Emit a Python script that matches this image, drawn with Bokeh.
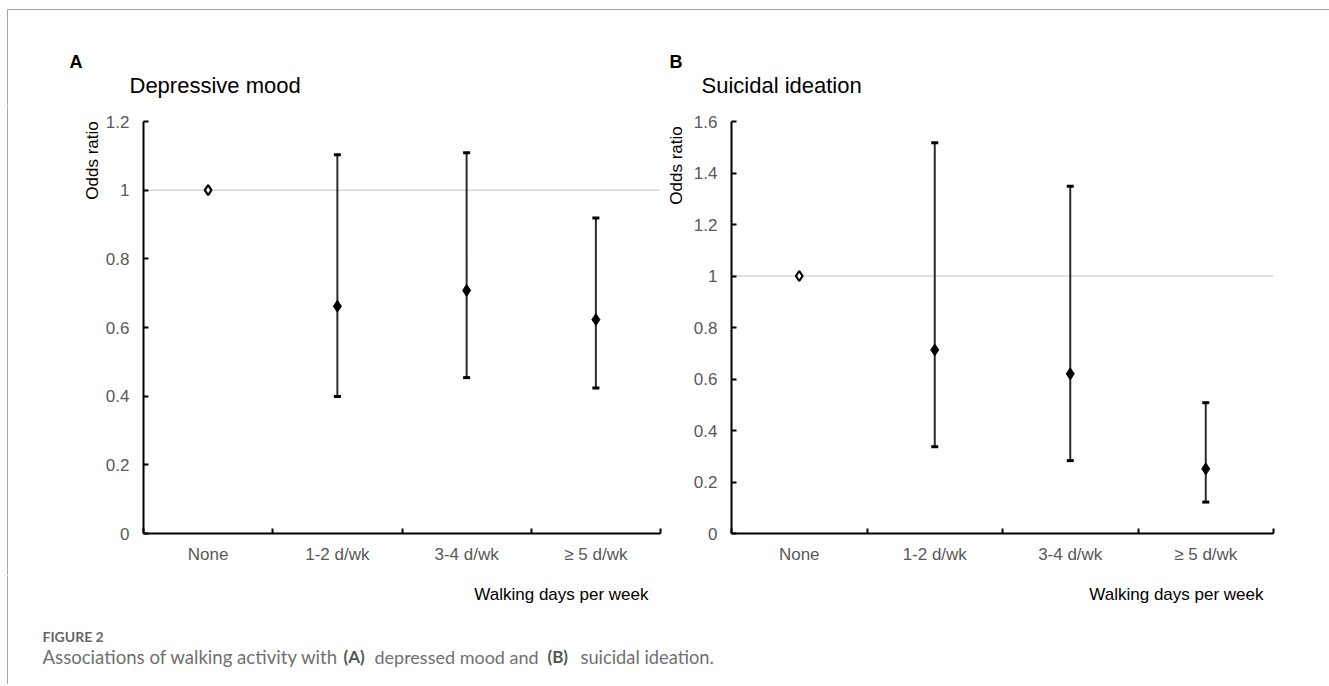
from bokeh.plotting import figure
from bokeh.models import ColumnDataSource, Whisker, TeeHead, Span, FixedTicker, Range1d, Plot
from bokeh.layouts import row, column
from bokeh.embed import file_html
from bokeh.resources import INLINE
from bokeh.core.properties import value

# ---------------- data ----------------
categories = ["None", "1-2 d/wk", "3-4 d/wk", "\u2265 5 d/wk"]

or_A = [1.0, 0.662, 0.708, 0.623]
lo_A = [1.0, 0.399, 0.454, 0.424]
hi_A = [1.0, 1.103, 1.109, 0.919]

or_B = [1.0, 0.713, 0.620, 0.251]
lo_B = [1.0, 0.337, 0.283, 0.122]
hi_B = [1.0, 1.517, 1.349, 0.508]

yticks_A = [0, 0.2, 0.4, 0.6, 0.8, 1.0, 1.2]
ylabels_A = ["0", "0.2", "0.4", "0.6", "0.8", "1", "1.2"]
yticks_B = [0, 0.2, 0.4, 0.6, 0.8, 1.0, 1.2, 1.4, 1.6]
ylabels_B = ["0", "0.2", "0.4", "0.6", "0.8", "1", "1.2", "1.4", "1.6"]

panel_letters = ["A", "B"]
panel_titles = ["Depressive mood", "Suicidal ideation"]
y_title = "Odds ratio"
x_title = "Walking days per week"
fig_label = "FIGURE 2"
caption_parts = ["Associations of walking activity with", "(A)", "depressed mood and", "(B)",
                 "suicidal ideation."]
caption_bold = [False, True, False, True, False]

FONT = "Liberation Sans"
TICK_COLOR = "#595959"
BORDER = "#a6a6a6"

HEADER_H = 105
MID_H = 470
FOOT_H = 109
W = 1329
TOP_B = 16          # panel border above frame
FRAME_H = 412
BOT_B = MID_H - TOP_B - FRAME_H

HAS_FA = "frame_align" in Plot.properties()


def make_panel(vals, lo, hi, yticks, ylabels, width, bl, br):
    p = figure(width=width, height=MID_H, output_backend="svg", toolbar_location=None,
               x_range=Range1d(0, len(categories)), y_range=Range1d(yticks[0], yticks[-1]),
               min_border_left=bl, min_border_right=br, min_border_top=TOP_B,
               min_border_bottom=BOT_B, title=None)
    p.outline_line_color = None
    p.grid.visible = False

    centers = [i + 0.5 for i in range(len(categories))]
    bounds = [float(i) for i in range(len(categories) + 1)]

    xa = p.xaxis[0]
    xa.ticker = FixedTicker(ticks=centers, minor_ticks=bounds)
    xa.major_label_overrides = {c: lab for c, lab in zip(centers, categories)}
    xa.axis_line_width = 2
    xa.axis_line_color = "black"
    xa.major_tick_in = 0
    xa.major_tick_out = 0
    xa.minor_tick_in = 5
    xa.minor_tick_out = 0
    xa.minor_tick_line_width = 2
    xa.minor_tick_line_color = "black"
    xa.major_label_text_font = FONT
    xa.major_label_text_font_size = "17px"
    xa.major_label_text_color = TICK_COLOR
    xa.major_label_standoff = 11

    ya = p.yaxis[0]
    ya.ticker = FixedTicker(ticks=yticks, minor_ticks=[])
    ya.major_label_overrides = {t: lab for t, lab in zip(yticks, ylabels)}
    ya.axis_line_width = 2
    ya.axis_line_color = "black"
    ya.major_tick_in = 5
    ya.major_tick_out = 0
    ya.major_tick_line_width = 2
    ya.major_tick_line_color = "black"
    ya.minor_tick_line_color = None
    ya.major_label_text_font = FONT
    ya.major_label_text_font_size = "17px"
    ya.major_label_text_color = TICK_COLOR
    ya.major_label_standoff = 14

    p.add_layout(Span(location=1, dimension="width", line_color="#c4c4c4", line_width=1, level="underlay"))

    idx = [i for i in range(len(categories)) if lo[i] != hi[i]]
    src_w = ColumnDataSource(dict(x=[centers[i] for i in idx], lo=[lo[i] for i in idx],
                                  hi=[hi[i] for i in idx], y=[vals[i] for i in idx]))
    head = dict(size=7, line_width=3, line_color="black")
    p.add_layout(Whisker(source=src_w, base="x", lower="lo", upper="hi", dimension="height",
                         line_color="#2b2b2b", line_width=2,
                         upper_head=TeeHead(**head), lower_head=TeeHead(**head)))
    p.scatter("x", "y", source=src_w, marker="diamond", size=12, color="black")

    ref = [i for i in range(len(categories)) if lo[i] == hi[i]]
    src_r = ColumnDataSource(dict(x=[centers[i] for i in ref], y=[vals[i] for i in ref]))
    p.scatter("x", "y", source=src_r, marker="diamond", size=10, fill_color="white",
              line_color="black", line_width=2.2)
    return p


class Canvas:
    """A plain figure whose frame is used as a pixel canvas (page coordinates)."""

    def __init__(self, w, h, page_x0, page_y0, strip=False):
        self.page_x0 = page_x0
        if strip and not HAS_FA:
            self.p = figure(width=w, height=h, output_backend="svg", toolbar_location=None,
                            x_range=Range1d(0, w), y_range=Range1d(0, FRAME_H), min_border=0,
                            min_border_top=TOP_B, min_border_bottom=BOT_B, title=None,
                            x_axis_location=None, y_axis_location=None)
            self.top = page_y0 + TOP_B
            self.h = FRAME_H
        else:
            self.p = figure(width=w, height=h, output_backend="svg", toolbar_location=None,
                            x_range=Range1d(0, w), y_range=Range1d(0, h), min_border=0, title=None,
                            x_axis_location=None, y_axis_location=None)
            if strip:
                self.p.frame_align = False
            self.top = page_y0
            self.h = h
        self.p.grid.visible = False
        self.p.outline_line_color = None

    def put(self, x, y, text, size, color="black", style="normal", font=FONT, angle=0,
            align="left", baseline="alphabetic"):
        self.p.text(x=[x - self.page_x0], y=[self.h - (y - self.top)], text=[text],
                    text_font=value(font), text_font_size=value(size), text_color=color,
                    text_font_style=style, angle=angle, text_align=align, text_baseline=baseline)

    def line(self, x0, y0, x1, y1):
        y0 = min(max(y0, self.top), self.top + self.h)
        y1 = min(max(y1, self.top), self.top + self.h)
        self.p.segment(x0=[x0 - self.page_x0], y0=[self.h - (y0 - self.top)],
                       x1=[x1 - self.page_x0], y1=[self.h - (y1 - self.top)],
                       line_color=BORDER, line_width=1)


# header
header = Canvas(W, HEADER_H, 0, 0)
header.line(7, 9, W, 9)
header.line(7, 9, 7, HEADER_H)
header.put(69, 61, panel_letters[0], "18px", style="bold")
header.put(129, 85, panel_titles[0], "22px")
header.put(669, 61, panel_letters[1], "18px", style="bold")
header.put(701, 85, panel_titles[1], "22px")

# strips with y titles
stripA = Canvas(101, MID_H, 0, HEADER_H, strip=True)
stripA.line(7, 0, 7, 700)
stripA.put(92, 160, y_title, "17px", angle=1.5708, align="center", baseline="middle")
stripB = Canvas(24, MID_H, 662, HEADER_H, strip=True)
stripB.put(676, 165, y_title, "17px", angle=1.5708, align="center", baseline="middle")

pA = make_panel(or_A, lo_A, hi_A, yticks_A, ylabels_A, width=561, bl=42, br=2)
pB = make_panel(or_B, lo_B, hi_B, yticks_B, ylabels_B, width=643, bl=45, br=56)

# footer
y0 = HEADER_H + MID_H
footer = Canvas(W, FOOT_H, 0, y0)
footer.line(7, y0, 7, y0 + FOOT_H)
footer.put(648, 594, x_title, "17px", align="right")
footer.put(1263, 594, x_title, "17px", align="right")
footer.put(42, 636, fig_label, "14px", color="#666666", style="bold", font="Lato")
cap_x = [42, 343, 374, 547, 580]
cap_size = ["18.6px", "17px", "18px", "17px", "18.3px"]
for cx, txt, b, sz in zip(cap_x, caption_parts, caption_bold, cap_size):
    footer.put(cx, 656, txt, sz, color="#555555" if b else "#707070",
               style="bold" if b else "normal", font="Lato")

layout = column(header.p, row(stripA.p, pA, stripB.p, pB), footer.p)
open("out.html", "w").write(file_html(layout, INLINE))
